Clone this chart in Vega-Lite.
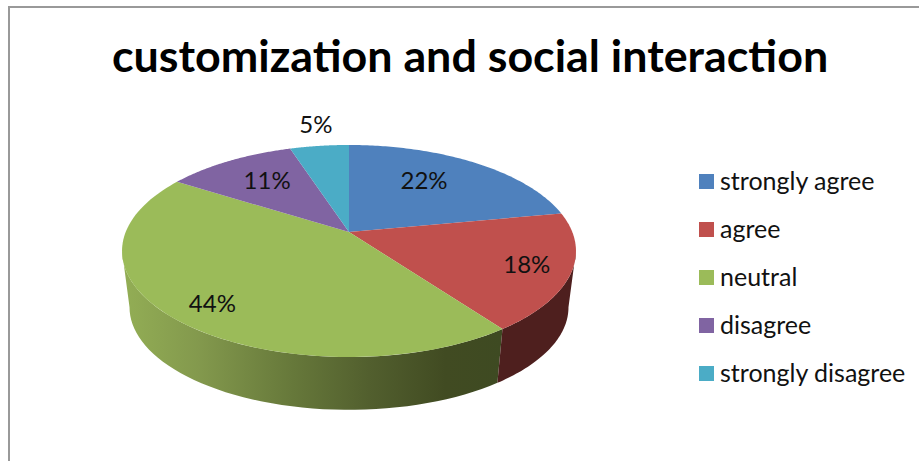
{
  "$schema": "https://vega.github.io/schema/vega-lite/v6.json",
  "width": 920,
  "height": 460,
  "padding": {"left": 9, "top": 7, "right": 0, "bottom": 0},
  "autosize": "none",
  "background": "white",
  "view": {"stroke": "#999999", "strokeWidth": 2, "fill": null},
  "title": {
    "text": "customization and social interaction",
    "font": "Lato",
    "fontWeight": "bold",
    "fontSize": 44.8,
    "color": "#000000",
    "anchor": "start",
    "frame": "group",
    "baseline": "alphabetic",
    "offset": 0,
    "dx": 103,
    "dy": 110
  },
  "data": {
    "values": [
      {"answer": "strongly agree", "value": 22},
      {"answer": "agree", "value": 18},
      {"answer": "neutral", "value": 44},
      {"answer": "disagree", "value": 11},
      {"answer": "strongly disagree", "value": 5}
    ]
  },
  "transform": [
    {"joinaggregate": [{"op": "sum", "field": "value", "as": "total"}]},
    {"window": [{"op": "sum", "field": "value", "as": "cum"}]},
    {"calculate": "(datum.cum - datum.value) / datum.total * 2 * PI", "as": "a0"},
    {"calculate": "datum.cum / datum.total * 2 * PI", "as": "a1"}
  ],
  "layer": [
    {
      "transform": [
        {"filter": "datum.answer === 'neutral'"},
        {"calculate": "max(datum.a0, 1.7506)", "as": "c0"},
        {"calculate": "min(datum.a1, 4.5326)", "as": "c1"},
        {"calculate": "sequence(0, 1.0001, 0.02)", "as": "steps"},
        {"flatten": ["steps"], "as": ["t"]},
        {"calculate": "[0, 1]", "as": "sides"},
        {"flatten": ["sides"], "as": ["side"]},
        {"calculate": "datum.c0 + (datum.c1 - datum.c0) * datum.t", "as": "a"},
        {"calculate": "223.3 * sin(datum.a) / (1 + 0.179 * cos(datum.a))", "as": "ex"},
        {"calculate": "102.6 * cos(datum.a) / (1 + 0.179 * cos(datum.a))", "as": "ey"},
        {"calculate": "datum.side === 0 ? datum.ex : 0.967 * datum.ex", "as": "px"},
        {"calculate": "datum.side === 0 ? datum.ey : 0.967 * datum.ey - 57", "as": "py"},
        {"calculate": "datum.side === 0 ? datum.t : 3 - datum.t", "as": "ord"}
      ],
      "mark": {
        "type": "line",
        "filled": true,
        "strokeWidth": 0,
        "fill": {
          "gradient": "linear",
          "x1": 1,
          "x2": 0,
          "y1": 0,
          "y2": 0,
          "stops": [
            {"offset": 0, "color": "#3e4a22"},
            {"offset": 0.15, "color": "#414b22"},
            {"offset": 0.35, "color": "#525f2e"},
            {"offset": 0.55, "color": "#66783a"},
            {"offset": 0.8, "color": "#83994d"},
            {"offset": 1, "color": "#93ae55"}
          ]
        }
      },
      "encoding": {
        "x": {"field": "px", "type": "quantitative", "scale": {"domain": [-340, 580], "nice": false, "zero": false}, "axis": null},
        "y": {"field": "py", "type": "quantitative", "scale": {"domain": [-235, 225], "nice": false, "zero": false}, "axis": null},
        "order": {"field": "ord", "type": "quantitative"}
      }
    },
    {
      "transform": [
        {"filter": "datum.answer === 'agree'"},
        {"calculate": "max(datum.a0, 1.7506)", "as": "c0"},
        {"calculate": "min(datum.a1, 4.5326)", "as": "c1"},
        {"calculate": "sequence(0, 1.0001, 0.02)", "as": "steps"},
        {"flatten": ["steps"], "as": ["t"]},
        {"calculate": "[0, 1]", "as": "sides"},
        {"flatten": ["sides"], "as": ["side"]},
        {"calculate": "datum.c0 + (datum.c1 - datum.c0) * datum.t", "as": "a"},
        {"calculate": "223.3 * sin(datum.a) / (1 + 0.179 * cos(datum.a))", "as": "ex"},
        {"calculate": "102.6 * cos(datum.a) / (1 + 0.179 * cos(datum.a))", "as": "ey"},
        {"calculate": "datum.side === 0 ? datum.ex : 0.967 * datum.ex", "as": "px"},
        {"calculate": "datum.side === 0 ? datum.ey : 0.967 * datum.ey - 57", "as": "py"},
        {"calculate": "datum.side === 0 ? datum.t : 3 - datum.t", "as": "ord"}
      ],
      "mark": {"type": "line", "filled": true, "strokeWidth": 0, "fill": "#4e1f1e"},
      "encoding": {
        "x": {"field": "px", "type": "quantitative", "scale": {"domain": [-340, 580], "nice": false, "zero": false}, "axis": null},
        "y": {"field": "py", "type": "quantitative", "scale": {"domain": [-235, 225], "nice": false, "zero": false}, "axis": null},
        "order": {"field": "ord", "type": "quantitative"}
      }
    },
    {
      "transform": [
        {"calculate": "sequence(-0.01, 1.0001, 0.01)", "as": "steps"},
        {"flatten": ["steps"], "as": ["t"]},
        {"calculate": "datum.a0 + (datum.a1 - datum.a0) * datum.t", "as": "a"},
        {"calculate": "datum.t < -0.001 ? 0 : 223.3 * sin(datum.a) / (1 + 0.179 * cos(datum.a))", "as": "px"},
        {"calculate": "datum.t < -0.001 ? 0 : 102.6 * cos(datum.a) / (1 + 0.179 * cos(datum.a))", "as": "py"}
      ],
      "mark": {"type": "line", "filled": true, "strokeWidth": 0},
      "encoding": {
        "x": {"field": "px", "type": "quantitative", "scale": {"domain": [-340, 580], "nice": false, "zero": false}, "axis": null},
        "y": {"field": "py", "type": "quantitative", "scale": {"domain": [-235, 225], "nice": false, "zero": false}, "axis": null},
        "order": {"field": "t", "type": "quantitative"},
        "fill": {
          "field": "answer",
          "type": "nominal",
          "scale": {
            "domain": ["strongly agree", "agree", "neutral", "disagree", "strongly disagree"],
            "range": ["#4f81bd", "#c0504d", "#9bbb59", "#8064a2", "#4bacc6"]
          },
          "legend": {
            "title": null,
            "orient": "none",
            "legendX": 685,
            "legendY": 162,
            "padding": 0,
            "symbolType": "square",
            "symbolSize": 225,
            "symbolStrokeWidth": 0,
            "labelFont": "Lato",
            "labelFontSize": 25,
            "labelColor": "#111111",
            "labelOffset": 1,
            "rowPadding": 22,
            "labelLimit": 300
          }
        }
      }
    },
    {
      "transform": [
        {"calculate": "(datum.a0 + datum.a1) / 2", "as": "a"},
        {"calculate": "datum.value === 5 ? 1.115 : datum.value === 22 ? 0.6 : datum.value === 11 ? 0.683 : datum.value === 44 ? 0.777 : 0.8", "as": "rx"},
        {"calculate": "datum.value === 5 ? 1.233 : datum.value === 22 ? 0.72 : datum.value === 11 ? 0.704 : 0.85", "as": "ry"},
        {"calculate": "datum.rx * 223.3 * sin(datum.a) / (1 + 0.179 * cos(datum.a))", "as": "px"},
        {"calculate": "datum.ry * 102.6 * cos(datum.a) / (1 + 0.179 * cos(datum.a))", "as": "py"},
        {"calculate": "datum.value + '%'", "as": "pct"}
      ],
      "mark": {"type": "text", "font": "Lato", "fontSize": 24, "color": "#111111", "baseline": "middle", "align": "center"},
      "encoding": {
        "x": {"field": "px", "type": "quantitative", "scale": {"domain": [-340, 580], "nice": false, "zero": false}, "axis": null},
        "y": {"field": "py", "type": "quantitative", "scale": {"domain": [-235, 225], "nice": false, "zero": false}, "axis": null},
        "text": {"field": "pct", "type": "nominal"}
      }
    }
  ]
}
